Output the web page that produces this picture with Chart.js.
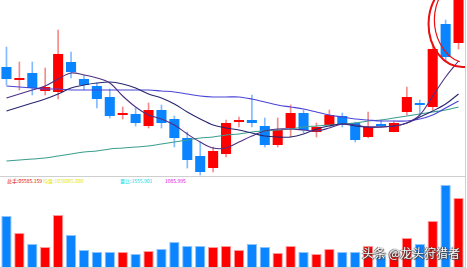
<!DOCTYPE html>
<html>
<head>
<meta charset="utf-8">
<script src="https://cdn.jsdelivr.net/npm/chart.js@4/dist/chart.umd.min.js"></script>
<style>
  html, body { margin: 0; padding: 0; background: #fff; }
  #wrap { position: relative; width: 467px; height: 268px; overflow: hidden; font-family: "Noto Sans CJK SC", sans-serif; }
  canvas { position: absolute; left: 0; }
  #main { top: 0; }
  #vol { top: 183px; }
  .hline { position: absolute; left: 0; width: 465px; height: 1px; background: #cfcfcf; }
  .vline { position: absolute; left: 465px; top: 0; width: 1px; height: 268px; background: #cfcfcf; }
  .lbl { position: absolute; top: 178px; font-size: 5px; line-height: 6px; white-space: nowrap; }
  #mark { position: absolute; left: 362px; top: 244px; font-size: 12px; color: #fff;
    text-shadow: 0 0 1px #333, 1px 1px 1px #444, -1px 0 1px #555; white-space: nowrap; }
</style>
</head>
<body>
<div id="wrap">
  <canvas id="main" width="465" height="176"></canvas>
  <div class="hline" style="top:176px"></div>
  <div class="lbl" style="left:7px;color:#e00000">总手:05585.159</div>
  <div class="lbl" style="left:43px;color:#e8e800">均量:1038065.000</div>
  <div class="lbl" style="left:120px;color:#00d8e8">量比:1555.901</div>
  <div class="lbl" style="left:165px;color:#e000e0">1085.995</div>
  <canvas id="vol" width="465" height="84"></canvas>
  <div class="hline" style="top:267px"></div>
  <div class="vline"></div>
  <div id="mark">头条 @龙头狩猎者</div>
</div>
<script>
const openP  = [23.3, 22.0, 22.7, 20.9, 20.8, 23.8, 22.1, 21.4, 20.3, 18.5, 18.6, 17.4, 19.0, 18.1, 16.2, 14.4, 13.2, 14.6, 17.8, 18.0, 17.4, 15.5, 17.2, 18.7, 16.8, 17.5, 18.4, 17.7, 16.3, 17.6, 16.8, 18.8, 19.7, 19.3, 27.6, 25.7];
const closeP = [22.1, 22.2, 21.2, 21.3, 24.6, 22.8, 21.5, 20.1, 18.4, 18.7, 17.7, 19.0, 17.7, 16.2, 14.0, 12.8, 14.9, 17.7, 18.0, 17.7, 15.5, 17.0, 18.7, 17.0, 17.3, 18.5, 17.5, 16.0, 17.3, 17.4, 17.7, 20.3, 19.5, 25.1, 24.3, 30.6];
const highP  = [25.3, 23.8, 23.8, 23.2, 27.0, 24.8, 22.5, 21.7, 21.1, 19.3, 19.2, 19.7, 19.5, 18.4, 16.8, 15.8, 15.3, 18.0, 18.3, 20.5, 18.2, 18.2, 19.5, 19.0, 17.7, 19.0, 18.7, 17.8, 18.8, 18.0, 17.9, 21.3, 20.0, 25.5, 28.0, 31.0];
const lowP   = [21.5, 21.0, 20.5, 20.5, 20.1, 22.2, 21.0, 19.2, 18.2, 18.1, 17.4, 17.2, 17.2, 15.3, 13.2, 12.5, 12.8, 14.3, 17.3, 17.3, 15.3, 15.3, 16.3, 16.7, 16.3, 17.4, 17.3, 15.8, 16.2, 17.3, 16.8, 18.5, 18.5, 19.0, 23.8, 25.1];

const ma5  = [20.2, 20.6, 21.0, 21.4, 22.1, 22.7, 22.5, 22.2, 21.7, 20.4, 19.3, 18.5, 18.1, 17.5, 16.6, 15.8, 15.2, 15.2, 15.8, 16.4, 16.9, 17.1, 17.1, 17.0, 16.9, 17.2, 17.6, 17.5, 17.3, 17.3, 17.4, 17.7, 18.5, 20.4, 22.3, 23.9];
const ma10 = [18.9, 19.3, 19.7, 20.1, 20.6, 21.2, 21.5, 21.7, 21.8, 21.6, 21.2, 20.6, 20.2, 19.6, 18.8, 18.1, 17.5, 17.2, 17.0, 16.7, 16.4, 16.3, 16.3, 16.6, 17.1, 17.4, 17.6, 17.4, 17.3, 17.3, 17.4, 17.7, 18.3, 18.9, 19.6, 20.6];
const ma20 = [21.4, 21.3, 21.2, 21.1, 21.1, 21.0, 21.0, 21.0, 21.0, 21.0, 21.0, 21.0, 20.9, 20.8, 20.6, 20.4, 20.3, 20.3, 20.3, 20.1, 19.8, 19.5, 19.3, 19.1, 18.8, 18.5, 18.3, 18.1, 18.0, 17.9, 17.9, 17.9, 18.1, 18.5, 19.2, 19.9];
const ma60 = [13.9, 14.0, 14.1, 14.2, 14.4, 14.6, 14.8, 14.9, 15.1, 15.2, 15.3, 15.4, 15.6, 15.8, 16.0, 16.2, 16.3, 16.5, 16.6, 16.8, 16.9, 17.0, 17.1, 17.3, 17.4, 17.5, 17.6, 17.7, 17.9, 18.0, 18.2, 18.4, 18.6, 18.8, 19.0, 19.3];

const volume = [51, 34, 23, 20, 52, 32, 17, 15, 15, 15, 13, 16, 18, 25, 21, 21, 20, 21, 17, 23, 20, 14, 21, 15, 13, 18, 15, 15, 21, 11, 14, 29, 23, 46, 82, 69];

const days = openP.map((_, i) => 'D' + (i + 1));

const UP = '#ff0000';
const DOWN = '#0a84ff';
const isUp = openP.map((o, i) => closeP[i] >= o);
const bodyColors = isUp.map((u) => (u ? UP : DOWN));
const wickColors = isUp.map((u) => (u ? 'rgba(240,60,60,0.6)' : 'rgba(30,130,255,0.55)'));

const circlePlugin = {
  id: 'circle',
  afterDatasetsDraw(chart) {
    const { ctx, scales } = chart;
    const cx = scales.x.getPixelForValue(35) + 4;
    const cy = scales.y.getPixelForValue(openP[34]);
    ctx.save();
    ctx.strokeStyle = '#e81010';
    ctx.lineWidth = 2;
    ctx.beginPath();
    ctx.ellipse(cx, cy, 34, 43, 0, 0, Math.PI * 2);
    ctx.stroke();
    ctx.lineWidth = 1.2;
    ctx.beginPath();
    ctx.ellipse(cx + 3, cy - 2, 31, 41, -0.1, Math.PI * 0.6, Math.PI * 1.5);
    ctx.stroke();
    ctx.restore();
  },
};

const lineDs = (label, data, color) => ({
  type: 'line',
  label,
  data,
  borderColor: color,
  borderWidth: 1.1,
  pointRadius: 0,
  tension: 0.35,
  fill: false,
  order: 0,
});

new Chart(document.getElementById('main').getContext('2d'), {
  type: 'bar',
  data: {
    labels: days,
    datasets: [
      {
        label: 'wick',
        data: lowP.map((l, i) => [l, highP[i]]),
        backgroundColor: wickColors,
        barThickness: 1,
        grouped: false,
        order: 2,
      },
      {
        label: 'body',
        data: openP.map((o, i) => [o, closeP[i]]),
        backgroundColor: bodyColors,
        barPercentage: 0.78,
        categoryPercentage: 1,
        grouped: false,
        order: 1,
      },
      lineDs('MA5', ma5, '#4e2f86'),
      lineDs('MA10', ma10, '#27276e'),
      lineDs('MA20', ma20, '#4a44d8'),
      lineDs('MA60', ma60, '#3a9e8e'),
    ],
  },
  options: {
    responsive: false,
    animation: false,
    layout: { padding: 0 },
    plugins: { legend: { display: false }, tooltip: { enabled: false } },
    scales: {
      x: { display: false, offset: true },
      y: { display: false, min: 12.4, max: 30.0 },
    },
  },
  plugins: [circlePlugin],
});

new Chart(document.getElementById('vol').getContext('2d'), {
  type: 'bar',
  data: {
    labels: days,
    datasets: [{
      label: 'volume',
      data: volume,
      backgroundColor: bodyColors,
      borderColor: isUp.map((u) => (u ? '#ff9a9a' : '#8cc4ff')),
      borderWidth: 1,
      barPercentage: 0.8,
      categoryPercentage: 1,
    }],
  },
  options: {
    responsive: false,
    animation: false,
    layout: { padding: 0 },
    plugins: { legend: { display: false }, tooltip: { enabled: false } },
    scales: {
      x: { display: false, offset: true },
      y: { display: false, min: 0, max: 84 },
    },
  },
});
</script>
</body>
</html>
